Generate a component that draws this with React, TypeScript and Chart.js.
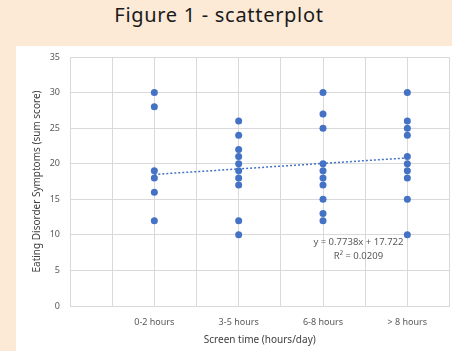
import React, { useEffect, useRef } from "react";
import { Chart, registerables } from "chart.js";

Chart.register(...registerables);

const categories = ["0-2 hours", "3-5 hours", "6-8 hours", "> 8 hours"];
const group1 = [30, 28, 19, 18, 16, 12];
const group2 = [26, 24, 22, 21, 20, 19, 18, 17, 12, 10];
const group3 = [30, 27, 25, 20, 19, 18, 17, 15, 13, 12];
const group4 = [30, 26, 25, 24, 21, 20, 19, 18, 15, 10];
const groups = [group1, group2, group3, group4];
const slope = 0.7738;
const intercept = 17.722;
const rSquared = "0.0209";
const yTicks = [0, 5, 10, 15, 20, 25, 30, 35];

const FONT = "'Noto Sans', 'Open Sans', sans-serif";

export default function App() {
  const ref = useRef<HTMLCanvasElement>(null);

  useEffect(() => {
    if (!ref.current) return;
    const points = groups.flatMap((g, i) => g.map((v) => ({ x: i + 1, y: v })));
    const trend = [1, 4].map((x) => ({ x, y: slope * x + intercept }));

    const labelPlugin = {
      id: "trendLabel",
      afterDraw(chart: any) {
        const { ctx, scales } = chart;
        const x = scales.x.getPixelForValue(3.42);
        const y = scales.y.getPixelForValue(8.9);
        ctx.save();
        ctx.fillStyle = "#595959";
        ctx.font = `9.5px ${FONT}`;
        ctx.textAlign = "center";
        ctx.textBaseline = "middle";
        ctx.fillText(`y = ${slope}x + ${intercept}`, x, y);
        ctx.fillText(`R² = ${rSquared}`, x, y + 14);
        ctx.restore();
      },
    };

    const chart = new Chart(ref.current, {
      type: "scatter",
      data: {
        datasets: [
          {
            label: "data",
            data: points,
            backgroundColor: "#4472C4",
            borderWidth: 0,
            pointRadius: 3.5,
            pointHoverRadius: 3.5,
          },
          {
            type: "line",
            label: "trend",
            data: trend,
            borderColor: "#4472C4",
            borderWidth: 1.5,
            borderDash: [2, 2],
            pointRadius: 0,
            fill: false,
          } as any,
        ],
      },
      options: {
        animation: false,
        responsive: false,
        maintainAspectRatio: false,
        events: [],
        layout: { padding: { top: 11, right: 0, left: 0, bottom: 0 } },
        plugins: { legend: { display: false }, tooltip: { enabled: false } },
        scales: {
          x: {
            type: "linear",
            min: 0,
            max: 4.5,
            afterFit: (s: any) => {
              s.height = 45;
              s.paddingLeft = 0;
              s.paddingRight = 0;
            },
            afterBuildTicks: (s: any) => {
              const t = [];
              for (let i = 0; i <= 9; i++) t.push({ value: i * 0.5 });
              s.ticks = t;
            },
            grid: { color: "#d9d9d9", drawTicks: false, lineWidth: 1 },
            border: { color: "#d9d9d9" },
            ticks: {
              autoSkip: false,
              maxRotation: 0,
              padding: 11,
              color: "#595959",
              font: { family: FONT, size: 9 },
              callback: (v: any) =>
                Number.isInteger(v) && v >= 1 && v <= 4 ? categories[v - 1] : "",
            },
            title: {
              display: true,
              text: "Screen time (hours/day)",
              color: "#404040",
              font: { family: FONT, size: 10 },
              padding: { top: 2, bottom: 5 },
            },
          },
          y: {
            min: 0,
            max: 35,
            afterFit: (s: any) => {
              s.width = 54;
              s.paddingTop = 0;
              s.paddingBottom = 0;
            },
            afterBuildTicks: (s: any) => {
              s.ticks = yTicks.map((v) => ({ value: v }));
            },
            grid: { color: "#d9d9d9", drawTicks: false, lineWidth: 1 },
            border: { color: "#d9d9d9" },
            ticks: {
              padding: 10,
              color: "#595959",
              font: { family: FONT, size: 9 },
            },
            title: {
              display: true,
              text: "Eating Disorder Symptoms (sum score)",
              color: "#404040",
              font: { family: FONT, size: 10 },
              padding: { top: 15, bottom: 0 },
            },
          },
        },
      },
      plugins: [labelPlugin],
    } as any);
    return () => chart.destroy();
  }, []);

  return (
    <div
      style={{
        position: "fixed",
        left: 0,
        top: 0,
        width: 452,
        height: 351,
        background: "#FCE9D6",
        overflow: "hidden",
      }}
    >
      <div
        style={{
          position: "absolute",
          left: 0,
          top: 1,
          width: 438,
          textAlign: "center",
          fontFamily: FONT,
          fontSize: 20,
          letterSpacing: 0.7,
          color: "#1a1a1a",
        }}
      >
        Figure 1 - scatterplot
      </div>
      <div
        style={{
          position: "absolute",
          left: 16,
          top: 46,
          width: 436,
          height: 305,
          background: "#ffffff",
        }}
      >
        <canvas ref={ref} width={437} height={305} style={{ display: "block" }} />
      </div>
    </div>
  );
}
